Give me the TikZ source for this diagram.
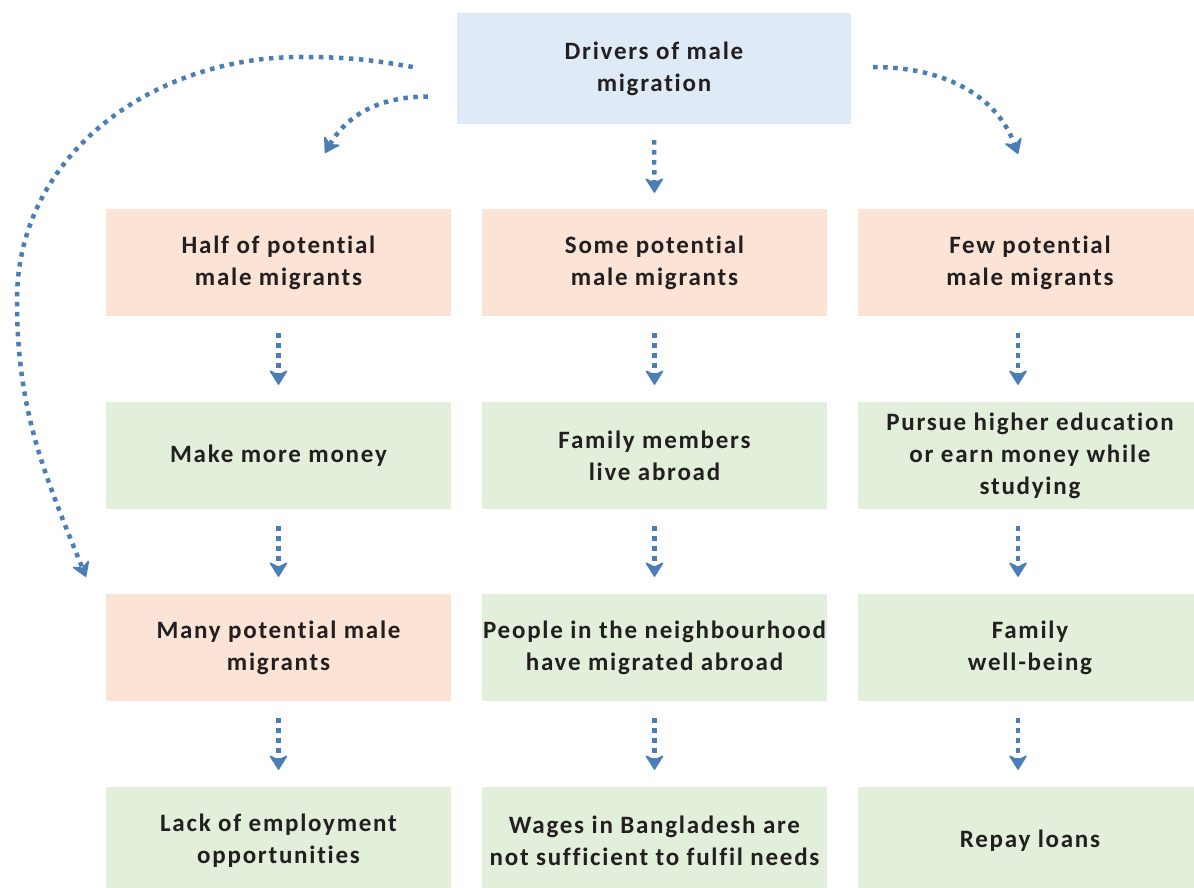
\documentclass[tikz,border=0pt]{standalone}
\usepackage{fontspec}
\setmainfont{Carlito}[LetterSpace=7,Ligatures={NoCommon,NoRequired,NoContextual}]
\usetikzlibrary{arrows.meta,calc}
\definecolor{bluebox}{HTML}{DEEBF7}
\definecolor{pinkbox}{HTML}{FBE3D6}
\definecolor{greenbox}{HTML}{E2EFDA}
\definecolor{arr}{HTML}{4A7EB5}
\definecolor{txt}{HTML}{231F20}
\tikzset{
  box/.style={draw=none, minimum width=345pt, minimum height=107pt, inner sep=0pt,
    align=center, text=txt, font=\fontsize{25}{32}\selectfont\bfseries},
  pinkb/.style={box, fill=pinkbox},
  greenb/.style={box, fill=greenbox},
  darr/.style={draw=arr, line width=4.5pt, dash pattern=on 4.5pt off 5.5pt,
    -{Stealth[length=16pt, width=20pt, inset=5pt, line width=1.5pt, round]}},
}
\begin{document}
\begin{tikzpicture}[x=1pt,y=-1pt]
\useasboundingbox (0,0) rectangle (1194,888);
\node[box, fill=bluebox, minimum width=394pt, minimum height=111pt] (top) at (654,68.5) {Drivers of male\\migration};
% row 1
\node[pinkb] (a1) at (278.5,262.5) {Half of potential\\male migrants};
\node[pinkb] (b1) at (654.5,262.5) {Some potential\\male migrants};
\node[pinkb] (c1) at (1030,262.5) {Few potential\\male migrants};
% row 2
\node[greenb] (a2) at (278.5,455.5) {Make more money};
\node[greenb] (b2) at (654.5,455.5) {Family members\\live abroad};
\node[greenb] (c2) at (1030,455.5) {Pursue higher education\\or earn money while\\studying};
% row 3
\node[pinkb] (a3) at (278.5,647.5) {Many potential male\\migrants};
\node[greenb] (b3) at (654.5,647.5) {People in the neighbourhood\\have migrated abroad};
\node[greenb] (c3) at (1030,647.5) {Family\\well-being};
% row 4
\node[greenb] (a4) at (278.5,840.5) {Lack of employment\\opportunities};
\node[greenb] (b4) at (654.5,840.5) {Wages in Bangladesh are\\not sufficient to fulfil needs};
\node[greenb] (c4) at (1030,840.5) {Repay loans};
% straight arrows
\draw[darr, shorten <=16pt, shorten >=16pt] (top.south) -- (b1.north);
\foreach \u/\v in {a1/a2,a2/a3,a3/a4,b1/b2,b2/b3,b3/b4}{
  \draw[darr, shorten <=17pt, shorten >=17pt] (\u.south) -- (\v.north);
}
\foreach \u/\v in {c1/c2,c2/c3,c3/c4}{
  \draw[darr, shorten <=17pt, shorten >=17pt] ([xshift=-12pt]\u.south) -- ([xshift=-12pt]\v.north);
}
% curved arrows
\coordinate (s1) at ($(top.west)+(-44,-1.5)$);
\coordinate (e1) at (86,577);
\coordinate (s2) at ($(top.west)+(-29,28)$);
\coordinate (e2) at (325,153);
\coordinate (s3) at ($(top.east)+(22,-1.5)$);
\coordinate (e3) at (1018,154);
\draw[darr] (s1) to[out=170,in=0] (300,57) to[out=180,in=90] (17,300) to[out=-90,in=112] (e1);
\draw[darr] (s2) to[out=180,in=60] (e2);
\draw[darr] (s3) to[out=0,in=110] (e3);
\end{tikzpicture}
\end{document}
